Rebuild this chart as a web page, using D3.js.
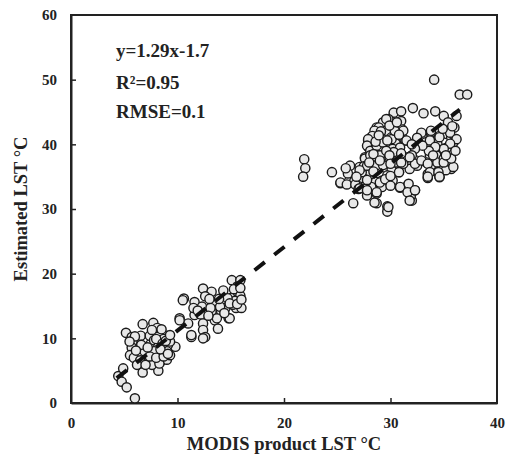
<!DOCTYPE html>
<html lang="en">
<head>
<meta charset="utf-8">
<title>LST scatter</title>
<script src="https://cdn.jsdelivr.net/npm/d3@7"></script>
<style>
  body { margin: 0; background: #fff; }
  svg text { font-family: "Liberation Serif", "DejaVu Serif", serif; font-weight: bold; fill: #222; }
  .axis path { stroke: #222; stroke-width: 2px; }
  .axis line { stroke: #222; stroke-width: 1.5px; }
</style>
</head>
<body>
<div id="chart"></div>
<script>
// MODIS LST (x) vs estimated LST (y)
var lowPts = [
  [4.44, 4.16], [4.9, 5.35], [4.76, 3.29], [5.23, 2.42], [6.0, 0.72],
  [5.16, 10.85], [6.73, 12.19], [7.73, 12.39], [8.1, 11.6], [5.7, 10.2],
  [6.55, 10.4], [5.78, 9.6], [5.7, 8.6], [5.54, 7.4], [5.9, 7.0],
  [6.48, 5.86], [6.73, 4.73], [6.9, 6.6], [6.9, 8.0], [6.6, 9.0],
  [7.5, 9.2], [7.4, 10.4], [7.8, 9.7], [8.3, 9.7], [8.9, 8.6],
  [9.0, 10.4], [9.2, 8.5], [8.85, 7.7], [7.8, 7.2], [8.4, 6.4],
  [9.0, 6.7], [8.2, 5.0], [7.6, 5.9], [8.5, 11.4], [7.6, 11.3],
  [6.0, 10.3], [5.5, 9.5], [6.1, 8.1], [6.5, 6.6], [6.2, 5.9],
  [7.0, 5.9], [8.3, 6.1], [9.3, 7.4], [9.8, 8.7], [9.1, 9.0],
  [8.2, 8.7], [8.5, 8.0], [7.8, 8.0], [7.4, 7.2], [8.0, 7.0],
  [8.7, 7.2], [9.0, 8.0], [9.3, 9.5], [8.7, 9.9], [8.0, 9.9],
  [8.6, 9.2], [8.9, 9.6], [8.4, 8.3], [9.1, 7.6], [7.2, 8.6]
];
var midPts = [
  [10.6, 16.15], [9.3, 10.5], [10.2, 13.1], [11.0, 12.3], [11.3, 10.2],
  [11.6, 13.6], [11.6, 15.6], [11.5, 14.7], [12.4, 17.7], [13.2, 17.2],
  [12.6, 16.5], [12.3, 14.9], [12.2, 13.7], [12.4, 12.3], [12.4, 11.3],
  [12.6, 10.2], [13.3, 15.6], [13.2, 14.2], [13.5, 12.8], [13.8, 11.5],
  [14.3, 17.4], [14.2, 15.6], [14.5, 14.7], [14.8, 13.1], [14.1, 14.2],
  [15.1, 19.0], [15.9, 19.0], [15.1, 16.3], [15.7, 17.0], [15.8, 15.9],
  [15.5, 14.7], [16.0, 14.7], [15.2, 15.2], [14.0, 14.9], [13.1, 14.7],
  [10.2, 12.8], [11.3, 10.5], [12.4, 10.0], [13.7, 13.1], [14.9, 13.1],
  [10.5, 15.9], [15.6, 18.0], [15.3, 17.6], [15.9, 16.6], [15.4, 15.8],
  [14.7, 16.2], [14.9, 15.4], [15.6, 15.3], [13.9, 16.1], [12.9, 13.5],
  [14.4, 13.9], [15.9, 17.8], [16.0, 16.0], [13.0, 16.1], [11.9, 14.3]
];
var highPts = [
  [21.9, 37.7], [22.0, 36.3], [21.8, 35.0], [24.5, 35.7], [26.5, 30.9],
  [25.3, 34.0], [26.1, 34.3], [26.2, 36.7], [26.0, 35.5], [26.6, 34.3],
  [27.1, 36.5], [27.6, 38.0], [27.8, 35.5], [27.4, 34.3],
  [34.1, 50.0], [36.5, 47.7], [37.2, 47.7], [28.7, 30.9], [29.7, 30.4],
  [29.7, 29.6], [32.0, 31.3], [31.9, 32.0], [32.3, 32.9], [31.6, 33.6],
  [30.9, 33.3], [30.3, 44.9], [31.0, 45.1], [32.1, 45.6], [33.1, 44.8],
  [34.2, 45.1], [35.0, 44.4], [36.2, 44.4], [29.3, 43.4], [29.8, 43.9],
  [31.0, 43.6], [35.4, 43.4], [36.0, 42.6], [28.7, 42.6], [28.2, 41.1],
  [27.9, 40.6], [27.9, 39.6], [28.4, 38.8], [28.8, 39.8], [29.2, 41.1],
  [29.6, 42.1], [30.1, 41.1], [30.5, 42.1], [31.1, 42.3], [31.1, 41.1],
  [31.4, 40.6], [30.5, 40.1], [30.2, 39.3], [29.5, 39.0], [29.2, 39.6],
  [29.0, 38.3], [29.9, 38.0], [30.9, 37.5], [31.6, 38.0], [32.4, 37.5],
  [32.9, 41.8], [33.8, 41.8], [33.7, 40.8], [33.3, 40.3], [33.6, 39.5],
  [34.6, 41.3], [34.4, 40.1], [35.3, 41.6], [35.7, 41.1], [35.9, 40.3],
  [35.3, 39.5], [34.6, 39.0], [34.3, 38.3], [33.7, 38.3], [33.4, 37.2],
  [33.8, 36.7], [34.4, 37.2], [35.0, 37.8], [35.4, 37.2], [35.7, 36.2],
  [35.2, 36.0], [34.4, 35.7], [33.5, 35.4], [33.5, 34.8], [34.6, 34.9],
  [32.5, 36.7], [31.8, 36.2], [30.8, 35.7], [30.1, 36.0], [29.7, 35.2],
  [29.2, 34.4], [29.8, 34.2], [30.2, 34.4], [29.2, 33.4], [28.6, 34.2],
  [28.2, 33.4], [27.7, 34.2], [27.4, 34.8], [27.3, 35.7], [25.8, 36.3],
  [25.3, 34.1], [25.9, 33.8], [26.7, 33.8], [27.0, 33.1], [27.6, 33.1],
  [28.7, 32.4], [27.8, 32.1], [28.2, 36.8], [27.6, 37.8], [27.5, 36.6],
  [28.7, 36.8], [29.3, 36.8], [29.6, 43.9], [28.9, 42.6], [28.5, 42.1],
  [28.3, 41.3], [27.9, 40.8], [27.8, 39.8], [28.1, 39.0], [28.1, 38.3],
  [28.7, 39.8], [29.3, 40.3], [30.1, 40.8], [31.2, 42.1], [30.4, 42.1],
  [31.5, 40.6], [30.9, 39.5], [30.3, 38.8], [29.6, 39.0], [33.8, 42.1],
  [33.7, 40.6], [34.6, 41.1], [35.6, 41.8], [36.2, 40.8], [35.6, 40.1],
  [35.0, 39.3], [34.2, 39.6], [33.6, 39.0], [33.0, 39.8], [32.3, 39.3],
  [32.0, 38.3], [28.4, 38.5], [29.9, 38.3], [27.8, 36.7], [27.1, 36.0],
  [28.4, 35.8], [27.8, 34.5], [27.1, 33.2], [27.8, 32.9], [28.7, 32.6],
  [28.5, 31.0], [29.8, 30.3], [29.0, 34.1], [29.5, 34.6], [30.0, 35.1],
  [30.8, 35.7], [30.0, 33.6], [30.9, 33.4], [31.7, 33.9], [31.6, 32.6],
  [32.3, 32.9], [31.8, 31.3], [31.2, 37.0], [30.5, 37.2], [32.3, 37.0],
  [32.9, 37.5], [33.5, 37.0], [33.7, 35.7], [33.5, 35.0], [34.5, 35.7],
  [34.6, 35.0], [35.0, 37.2], [35.9, 36.5], [35.7, 37.8], [35.2, 38.3],
  [34.0, 38.3], [31.8, 38.0], [31.0, 37.2], [36.1, 39.0], [35.8, 42.8],
  [34.9, 42.4], [32.5, 41.0], [32.0, 40.0], [31.0, 38.6], [30.0, 37.0],
  [29.0, 37.5], [28.0, 37.2], [26.8, 35.0], [28.6, 40.4], [29.1, 42.0],
  [29.9, 42.9], [30.6, 43.4], [30.8, 41.5], [29.7, 40.6], [28.9, 41.4]
];

var xTicks = [0, 10, 20, 30, 40];
var yTicks = [0, 10, 20, 30, 40, 50, 60];
var fitSlope = 1.29, fitIntercept = -1.7;
var fitRange = [4.3, 36.5];
var statLines = ["y=1.29x-1.7", "R²=0.95", "RMSE=0.1"];

var points = lowPts.concat(midPts, highPts);

var W = 506, H = 459;
var margin = {top: 15, right: 9, bottom: 56, left: 71},
    width = W - margin.left - margin.right,
    height = H - margin.top - margin.bottom;

var svg = d3.select("#chart").append("svg")
    .attr("width", W)
    .attr("height", H)
  .append("g")
    .attr("transform", "translate(" + margin.left + "," + margin.top + ")");

var x = d3.scaleLinear().domain([0, 40]).range([0, width]);
var y = d3.scaleLinear().domain([0, 60]).range([height, 0]);

// plot frame
svg.append("rect")
    .attr("x", 0).attr("y", 0)
    .attr("width", width).attr("height", height)
    .attr("fill", "none")
    .attr("stroke", "#222")
    .attr("stroke-width", 2);

// axes with inward ticks
svg.append("g")
    .attr("class", "axis")
    .attr("transform", "translate(0," + height + ")")
    .call(d3.axisBottom(x).tickValues(xTicks).tickSizeInner(-5).tickSizeOuter(0).tickPadding(14))
    .call(function(g) { g.selectAll(".tick line").filter(function(d) { return d === 0 || d === 40; }).remove(); });

svg.append("g")
    .attr("class", "axis")
    .call(d3.axisLeft(y).tickValues(yTicks).tickSizeInner(-5).tickSizeOuter(0).tickPadding(14))
    .call(function(g) { g.selectAll(".tick line").filter(function(d) { return d === 0 || d === 60; }).remove(); });

svg.selectAll(".axis text").style("font-size", "15px");

// points
svg.append("g").selectAll("circle")
    .data(points)
  .enter().append("circle")
    .attr("cx", function(d) { return x(d[0]); })
    .attr("cy", function(d) { return y(d[1]); })
    .attr("r", 4.6)
    .attr("fill", "#e8e8e8")
    .attr("stroke", "#1a1a1a")
    .attr("stroke-width", 1.4);

// fit line
var fitLine = d3.line()
    .x(function(d) { return x(d); })
    .y(function(d) { return y(fitSlope * d + fitIntercept); });

svg.append("path")
    .datum(fitRange)
    .attr("d", fitLine)
    .attr("fill", "none")
    .attr("stroke", "#111")
    .attr("stroke-width", 4)
    .attr("stroke-dasharray", "13,12");

// stats text
svg.append("g").selectAll("text")
    .data(statLines)
  .enter().append("text")
    .attr("x", 45)
    .attr("y", function(d, i) { return [42, 74, 103][i]; })
    .style("font-size", "19px")
    .text(function(d) { return d; });

// axis titles
svg.append("text")
    .attr("x", width / 2)
    .attr("y", height + 47)
    .attr("text-anchor", "middle")
    .style("font-size", "18.5px")
    .text("MODIS product LST °C");

svg.append("text")
    .attr("transform", "rotate(-90)")
    .attr("x", -height / 2)
    .attr("y", -44)
    .attr("text-anchor", "middle")
    .style("font-size", "18.5px")
    .text("Estimated LST °C");
</script>
</body>
</html>
